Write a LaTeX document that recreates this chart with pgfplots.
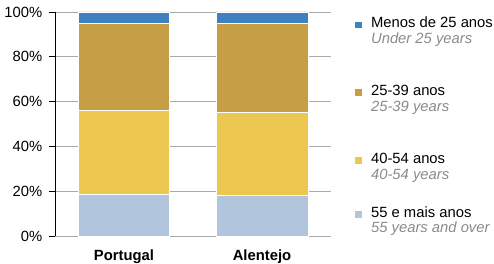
\documentclass[border=0pt]{standalone}
\usepackage{pgfplots}
\pgfplotsset{compat=1.18}
\usepackage{fontspec}
\setmainfont{Liberation Sans}
\usetikzlibrary{calc}
\definecolor{cU}{RGB}{63,129,192}
\definecolor{cA}{RGB}{198,158,69}
\definecolor{cB}{RGB}{236,200,80}
\definecolor{cC}{RGB}{177,197,221}
\definecolor{lgray}{RGB}{138,138,138}
\definecolor{gridc}{RGB}{170,170,170}
\newcommand{\lentry}[3]{\begin{tabular}[t]{@{}l@{}}\rule{0pt}{#3}#1\\\textcolor{lgray}{\itshape #2}\end{tabular}}
\begin{document}
\begin{tikzpicture}[font=\fontsize{14.8bp}{15.5bp}\selectfont]
\begin{axis}[name=ax, scale only axis, width=276bp, height=224bp,
  ybar stacked, bar width=91.6bp,
  xmin=-0.5, xmax=1.5, ymin=0, ymax=100,
  xtick={0,1}, xticklabels={\textbf{Portugal},\textbf{Alentejo}},
  ytick={0,20,40,60,80,100}, yticklabels={0\%,20\%,40\%,60\%,80\%,100\%},
  separate axis lines,
  axis x line*=bottom, axis y line*=left,
  axis line style={-},
  x axis line style={draw=gridc, line width=0.8bp},
  y axis line style={draw=black, line width=0.8bp},
  tick align=outside, major tick length=6bp,
  ytick style={draw=black, line width=0.8bp},
  xtick style={draw=none},
  ymajorgrids, major grid style={draw=gridc, line width=0.8bp},
  xticklabel style={anchor=base, yshift=-18bp},
  yticklabel style={anchor=east, xshift=-3.3bp},
  reverse legend,
  legend style={draw=none, fill=none, inner sep=0pt, outer sep=0pt,
    at={(1,1)}, anchor=north west, xshift=23bp, yshift=-3bp,
    cells={anchor=base west}, row sep=0bp,
    /tikz/every odd column/.append style={column sep=7bp}},
  legend image code/.code={\fill[#1] (0bp,-0.5bp) rectangle (7.5bp,7bp);},
]
\addplot[fill=cC, draw=white, line width=0.6bp] coordinates {(0,18.6) (1,18.3)};
\addlegendentry{\lentry{55 e mais anos}{55 years and over}{48.3bp}}
\addplot[fill=cB, draw=white, line width=0.6bp] coordinates {(0,37.3) (1,36.8)};
\addlegendentry{\lentry{40-54 anos}{40-54 years}{62.5bp}}
\addplot[fill=cA, draw=white, line width=0.6bp] coordinates {(0,39.0) (1,39.8)};
\addlegendentry{\lentry{25-39 anos}{25-39 years}{62.3bp}}
\addplot[fill=cU, draw=white, line width=0.6bp] coordinates {(0,5.1) (1,5.1)};
\addlegendentry{\lentry{Menos de 25 anos}{Under 25 years}{0bp}}
\end{axis}
\pgfresetboundingbox
\path[use as bounding box] ($(ax.south west)+(-55bp,-28bp)$) rectangle ($(ax.north east)+(163bp,12bp)$);
\end{tikzpicture}
\end{document}
